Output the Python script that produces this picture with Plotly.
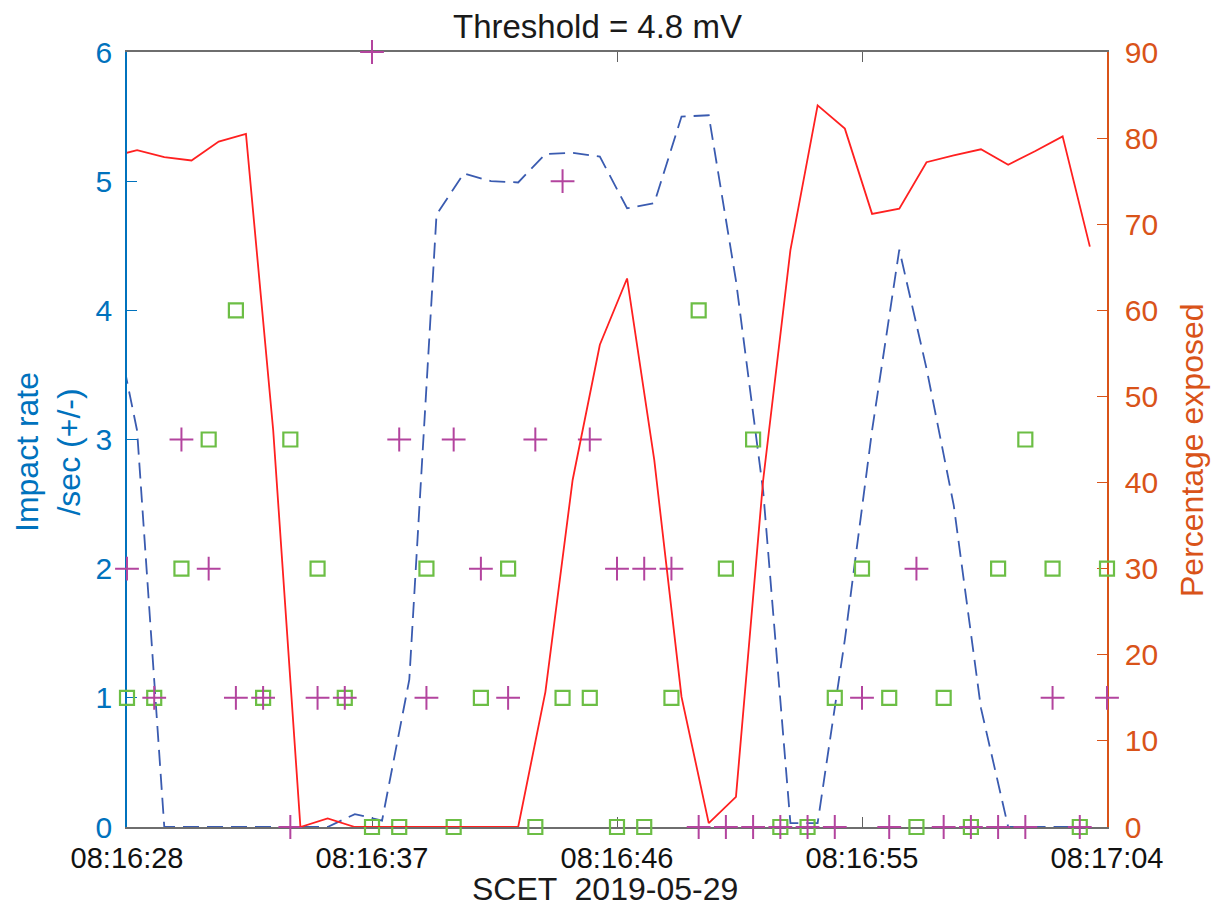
import plotly.graph_objects as go
from datetime import datetime, timedelta

# ---------------- data ----------------
start_time = datetime(2019, 5, 29, 8, 16, 28)
marker_seconds = list(range(37))                       # one sample per second
line_seconds = [k + 0.37 for k in range(-1, 36)]        # averaged-line time stamps

# impact counts per second
pos_rate = [2, 1, 3, 2, 1, 1, 0, 1, 1, 6, 3, 1, 3, 2, 1, 3, 5, 3, 2, 2, 2,
            0, 0, 0, 0, 0, 0, 1, 0, 2, 0, 0, 0, 0, 1, 0, 1]
neg_rate = [1, 1, 2, 3, 4, 1, 3, 2, 1, 0, 0, 2, 0, 1, 2, 0, 1, 1, 0, 0, 1,
            4, 2, 3, 0, 0, 1, 2, 1, 0, 1, 0, 2, 3, 2, 0, 2]

# smoothed rate (left axis, dashed)
rate_avg = [4.10, 3.07, 0.00, 0.00, 0.00, 0.00, 0.00, 0.00, 0.00, 0.10,
            0.05, 1.14, 4.74, 5.06, 5.00, 4.99, 5.21, 5.22, 5.19, 4.79,
            4.83, 5.50, 5.51, 4.23, 2.60, 0.03, 0.03, 1.45, 3.07, 4.47,
            3.55, 2.49, 0.92, 0.00, 0.00, 0.00, 0.00]

# percentage exposed (right axis, red)
pct_exposed = [77.8, 78.6, 77.8, 77.4, 79.6, 80.5, 46.1, 0.0, 1.0, 0.0,
               0.0, 0.0, 0.0, 0.0, 0.0, 0.0, 15.7, 40.3, 56.0, 63.7,
               42.6, 15.1, 0.45, 3.5, 40.3, 67.0, 83.8, 81.1, 71.2, 71.8,
               77.2, 78.0, 78.7, 76.9, 78.5, 80.2, 67.4]

tick_seconds = [0, 9, 18, 27, 36]
tick_labels = ["08:16:28", "08:16:37", "08:16:46", "08:16:55", "08:17:04"]

title_text = "Threshold = 4.8 mV"
xlabel = "SCET  2019-05-29"
ylabel_left = "Impact rate<br>/sec (+/-)"
ylabel_right = "Percentage exposed"

# ---------------- styles ----------------
BLUE_AX = "#0072BD"
ORANGE_AX = "#D95319"
DASH_C = "#3A5BB0"
RED_C = "#FF2020"
GREEN_C = "#6CBE45"
MAG_C = "#B3449E"
FONT = "Liberation Sans, Arial, Helvetica, sans-serif"

def ts(sec):
    return start_time + timedelta(seconds=sec)

x_markers = [ts(s) for s in marker_seconds]
x_lines = [ts(s) for s in line_seconds]

fig = go.Figure()

fig.add_trace(go.Scatter(
    x=x_lines, y=rate_avg, mode="lines", yaxis="y",
    line=dict(color=DASH_C, width=1.8, dash="16px,8px"),
    hoverinfo="skip"))

fig.add_trace(go.Scatter(
    x=x_markers, y=neg_rate, mode="markers", yaxis="y", cliponaxis=False,
    marker=dict(symbol="square-open", size=14, color=GREEN_C,
                line=dict(color=GREEN_C, width=2.2))))

fig.add_trace(go.Scatter(
    x=x_markers, y=pos_rate, mode="markers", yaxis="y", cliponaxis=False,
    marker=dict(symbol="cross-thin", size=17, color=MAG_C,
                line=dict(color=MAG_C, width=2))))

fig.add_trace(go.Scatter(
    x=x_lines, y=pct_exposed, mode="lines", yaxis="y2",
    line=dict(color=RED_C, width=1.8),
    hoverinfo="skip"))

L, R, T, B = 127, 110, 52, 88
W, H = 1217, 915
pw, ph = W - L - R, H - T - B

def px_x(px):
    return (px - L) / pw

def px_y(py):
    return (H - B - py) / ph

fig.update_layout(
    width=W, height=H,
    margin=dict(l=L, r=R, t=T, b=B, pad=0),
    paper_bgcolor="white", plot_bgcolor="white",
    showlegend=False,
    font=dict(family=FONT, size=29, color="black"),
    xaxis=dict(
        type="date",
        range=[ts(0), ts(36)],
        tickvals=[ts(s) for s in tick_seconds],
        ticktext=tick_labels,
        ticks="inside", ticklen=10, tickwidth=1.2, tickcolor="#606060",
        showline=True, linecolor="#6E6E6E", linewidth=1.5, mirror="ticks",
        showgrid=False, zeroline=False,
        tickfont=dict(size=29, color="#111111", family=FONT),
        ticklabelstandoff=4,
        layer="below traces",
    ),
    yaxis=dict(
        range=[0, 6], dtick=1, tick0=0,
        ticks="inside", ticklen=10, tickwidth=1.2, tickcolor=BLUE_AX,
        showline=True, linecolor=BLUE_AX, linewidth=1.5,
        showgrid=False, zeroline=False,
        tickfont=dict(size=30, color=BLUE_AX, family=FONT),
        ticklabelstandoff=7,
        layer="below traces",
    ),
    yaxis2=dict(
        range=[0, 90], dtick=10, tick0=0,
        overlaying="y", side="right",
        ticks="inside", ticklen=10, tickwidth=1.2, tickcolor=ORANGE_AX,
        showline=True, linecolor=ORANGE_AX, linewidth=1.5,
        showgrid=False, zeroline=False,
        tickfont=dict(size=30, color=ORANGE_AX, family=FONT),
        ticklabelstandoff=10,
        layer="below traces",
    ),
    annotations=[
        dict(text=title_text, xref="paper", yref="paper",
             x=px_x(597), y=px_y(26), xanchor="center", yanchor="middle",
             showarrow=False, font=dict(size=33, color="#1a1a1a", family=FONT)),
        dict(text=xlabel, xref="paper", yref="paper",
             x=px_x(605), y=px_y(889), xanchor="center", yanchor="middle",
             showarrow=False, font=dict(size=32, color="#1a1a1a", family=FONT)),
        dict(text=ylabel_left, xref="paper", yref="paper",
             x=px_x(48), y=px_y(452), xanchor="center", yanchor="middle",
             textangle=-90, showarrow=False,
             font=dict(size=32, color=BLUE_AX, family=FONT)),
        dict(text=ylabel_right, xref="paper", yref="paper",
             x=px_x(1192), y=px_y(450), xanchor="center", yanchor="middle",
             textangle=-90, showarrow=False,
             font=dict(size=32, color=ORANGE_AX, family=FONT)),
    ],
)

fig.write_html("out.html")
